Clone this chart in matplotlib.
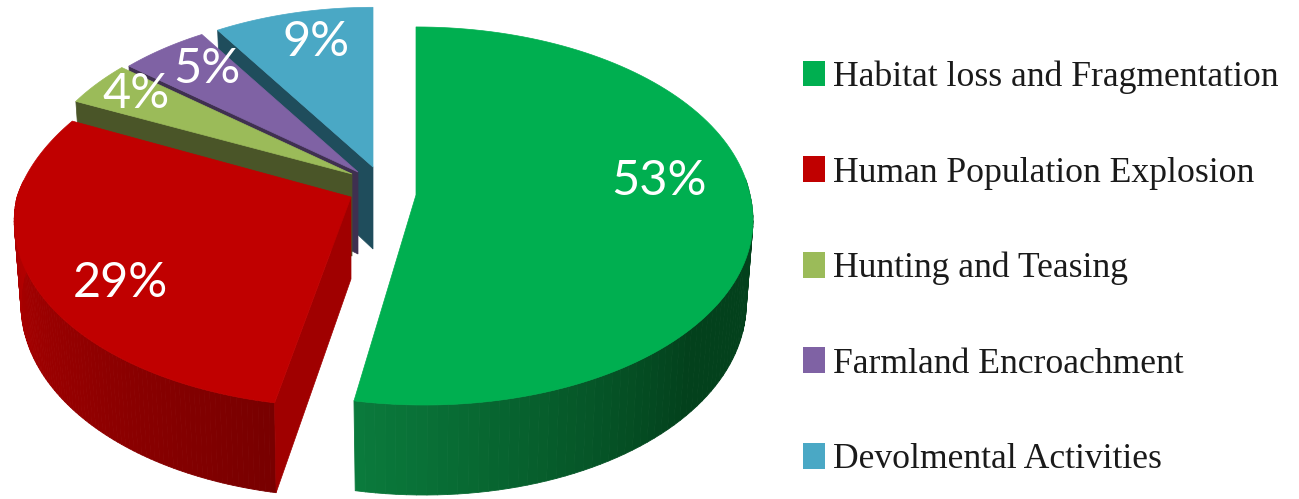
import numpy as np
import matplotlib
matplotlib.use("Agg")
from matplotlib import pyplot as plt
from matplotlib.patches import Polygon, Patch
from matplotlib.collections import PolyCollection
from matplotlib.colors import to_rgb

categories = ["Habitat loss and Fragmentation", "Human Population Explosion",
              "Hunting and Teasing", "Farmland Encroachment", "Devolmental Activities"]
percent = [53, 29, 4, 5, 9]

top_colors = ["#00AF50", "#C00000", "#9BBB59", "#7F62A4", "#4AA8C5"]
face_colors = [None, "#A00000", "#4A5528", "#3F3050", "#1F4D5C"]
rim_left = ["#0A7A3C", "#B40000", "#4A5528", "#3F3050", "#1F4D5C"]
rim_right = ["#03411C", "#780000", "#4A5528", "#3F3050", "#1F4D5C"]

# slice placement: apex x, apex y, radius scale, shear of front half, shear of back half
placing = [(416, 195, 1.0, 0.04, 0.0), (351, 197, 1.0, -0.03, -0.13), (352, 174, 0.955, 0.0, 0.0),
           (358, 172, 0.95, 0.0, 0.0), (373, 167, 0.945, 0.0, 0.0)]
label_pos = [(659, 181), (120, 283), (136, 94), (207, 69), (316, 42)]

A0, B0, K = 334.0, 186.7, 0.111   # flattened pie with some perspective
DEPTH = 82.0


def project(theta, r, place, z=0.0):
    cx, cy, scale, front, back = place
    s = r*scale*np.sin(theta)
    c = r*scale*np.cos(theta)
    x = A0*c/(1 + K*s)
    y = -B0*s/(1 + K*s)
    x = x + front*np.maximum(y, 0) + back*np.minimum(y, 0)
    x = x*(1 - 0.02*z)
    y = y + z*(DEPTH - 8*s)
    return cx + x, cy + y


fig = plt.figure(figsize=(12.99, 4.99), dpi=100, facecolor="white")
ax = fig.add_axes([0, 0, 1, 1])
ax.set_xlim(0, 1299)
ax.set_ylim(499, 0)
ax.axis("off")

# angles, clockwise from twelve o'clock
angle = 90.0
spans = []
for p in percent:
    sweep = 360.0*p/sum(percent)
    spans.append((angle, angle - sweep))
    angle -= sweep

# back slices first, green last
for i in [4, 3, 2, 1, 0]:
    a0, a1 = np.radians(spans[i])
    place = placing[i]
    cx, cy = place[0], place[1]
    th = np.linspace(a0, a1, 120)

    # outer rim as thin quads so the shade can change along it
    vis = th[np.sin(th) < 0.1]
    if len(vis) > 1:
        xt, yt = project(vis, 1, place)
        xb, yb = project(vis, 1, place, 1)
        quads, cols = [], []
        c_l, c_r = np.array(to_rgb(rim_left[i])), np.array(to_rgb(rim_right[i]))
        for j in range(len(vis) - 1):
            quads.append([(xt[j], yt[j]), (xt[j+1], yt[j+1]), (xb[j+1], yb[j+1]), (xb[j], yb[j])])
            f = 1 - (j/(len(vis) - 2))
            if i == 0:
                f = min(1, f*1.8)   # green stays dark over most of its rim
            cols.append(c_l*(1 - f) + c_r*f)
        ax.add_collection(PolyCollection(quads, facecolors=cols, edgecolors=cols, linewidths=0.6))

    # cut face on the clockwise side of the slice
    if face_colors[i]:
        x1, y1 = project(a0, 1, place)
        x2, y2 = project(a0, 1, place, 1)
        x3, y3 = project(a0, 0, place, 1)
        ax.add_patch(Polygon([(cx, cy), (x1, y1), (x2, y2), (x3, y3)],
                             facecolor=face_colors[i], edgecolor=face_colors[i], linewidth=0.5))

    # top of the slice
    xs, ys = project(th, 1, place)
    pts = [(cx, cy)] + list(zip(xs, ys))
    ax.add_patch(Polygon(pts, facecolor=top_colors[i], edgecolor=top_colors[i], linewidth=0.5))

for p, (lx, ly) in zip(percent, label_pos):
    ax.text(lx, ly, f"{p}%", color="white", fontsize=35, family="Lato",
            ha="center", va="center", zorder=5)

handles = [Patch(facecolor=c, edgecolor="none") for c in top_colors]
leg = ax.legend(handles, categories, loc="upper left", bbox_to_anchor=(803, 60.5),
                bbox_transform=ax.transData, frameon=False, borderpad=0, borderaxespad=0,
                prop={"family": "Liberation Serif", "size": 25.7}, labelcolor="#1a1a1a",
                handlelength=0.62, handleheight=0.74, handletextpad=0.22, labelspacing=1.74)

plt.savefig("out.png", dpi=100)
